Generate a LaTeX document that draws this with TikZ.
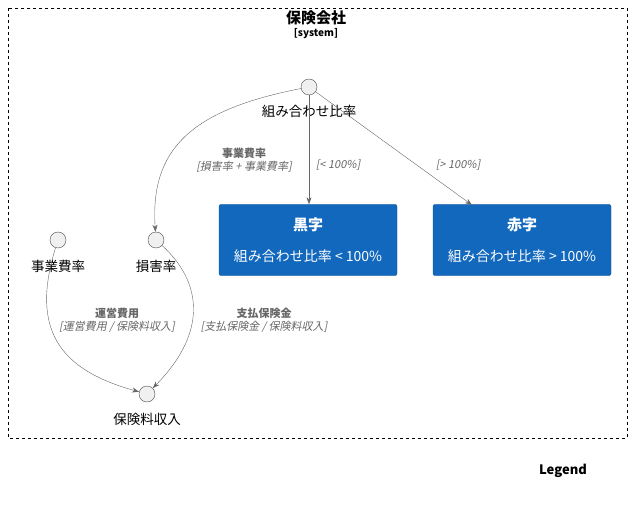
\documentclass[tikz,border=0pt]{standalone}
\usepackage{fontspec}
\setmainfont{Noto Sans CJK JP}[ItalicFont={Noto Sans CJK JP},ItalicFeatures={FakeSlant=0.2}]
\usetikzlibrary{arrows.meta}
\definecolor{boxblue}{HTML}{1168BD}
\definecolor{edgegray}{HTML}{666666}
\tikzset{
  state/.style={draw=black!70, fill=black!6, circle, minimum size=16pt, inner sep=0pt},
  lbl/.style={font=\fontsize{13.5}{15}\selectfont},
  box/.style={draw=boxblue!80!black, fill=boxblue, rounded corners=2pt, minimum width=178pt, minimum height=71pt, text=white, align=center, font=\fontsize{14}{15}\selectfont},
  flow/.style={draw=edgegray, -{Stealth[length=7pt,width=5pt]}},
  elbl/.style={text=edgegray, align=center, font=\fontsize{11}{13}\selectfont}
}
\begin{document}
\begin{tikzpicture}[x=1pt,y=-1pt]
  \useasboundingbox (0,0) rectangle (632,505);
  % boundary
  \draw[dashed] (8,8) rectangle (627,438);
  \node[font=\fontsize{15}{16}\selectfont\bfseries] (title) at (316,18) {保険会社};
  \node[font=\fontsize{10}{11}\selectfont\bfseries] (stereo) at (316,34) {[system]};
  % nodes
  \node[state] (kumi) at (309,87) {};
  \node[lbl] (kumiL) at (309,111) {組み合わせ比率};
  \node[state] (jigyo) at (58,240) {};
  \node[lbl] (jigyoL) at (58,266) {事業費率};
  \node[state] (songai) at (156,240) {};
  \node[lbl] (songaiL) at (156,266) {損害率};
  \node[state] (hoken) at (147,394) {};
  \node[lbl] (hokenL) at (147,419) {保険料収入};
  \node[box] (kuro) at (308,240) {\textbf{\fontsize{15}{16}\selectfont 黒字}\\[16pt]組み合わせ比率 < 100\%};
  \node[box] (aka) at (522,240) {\textbf{\fontsize{15}{16}\selectfont 赤字}\\[16pt]組み合わせ比率 > 100\%};
  % edges
  \draw[flow] (kumi) .. controls (190,110) and (150,150) .. (songai);
  \draw[flow] (kumi) -- (kuro.north -| kumi);
  \draw[flow] (kumi) -- (472,205);
  \draw[flow] (jigyo) .. controls (30,330) and (60,370) .. (hoken);
  \draw[flow] (songai) .. controls (200,280) and (210,330) .. (hoken);
  % edge labels
  \node[elbl] (e1) at (244,160) {\textbf{事業費率}\\\textit{[損害率 + 事業費率]}};
  \node[elbl] (e2) at (338,165) {\textit{[< 100\%]}};
  \node[elbl] (e3) at (458,165) {\textit{[> 100\%]}};
  \node[elbl] (e4) at (117,320) {\textbf{運営費用}\\\textit{[運営費用 / 保険料収入]}};
  \node[elbl] (e5) at (264,320) {\textbf{支払保険金}\\\textit{[支払保険金 / 保険料収入]}};
  \node[font=\fontsize{13}{14}\selectfont\bfseries] (legend) at (563,471) {Legend};
\end{tikzpicture}
\end{document}
